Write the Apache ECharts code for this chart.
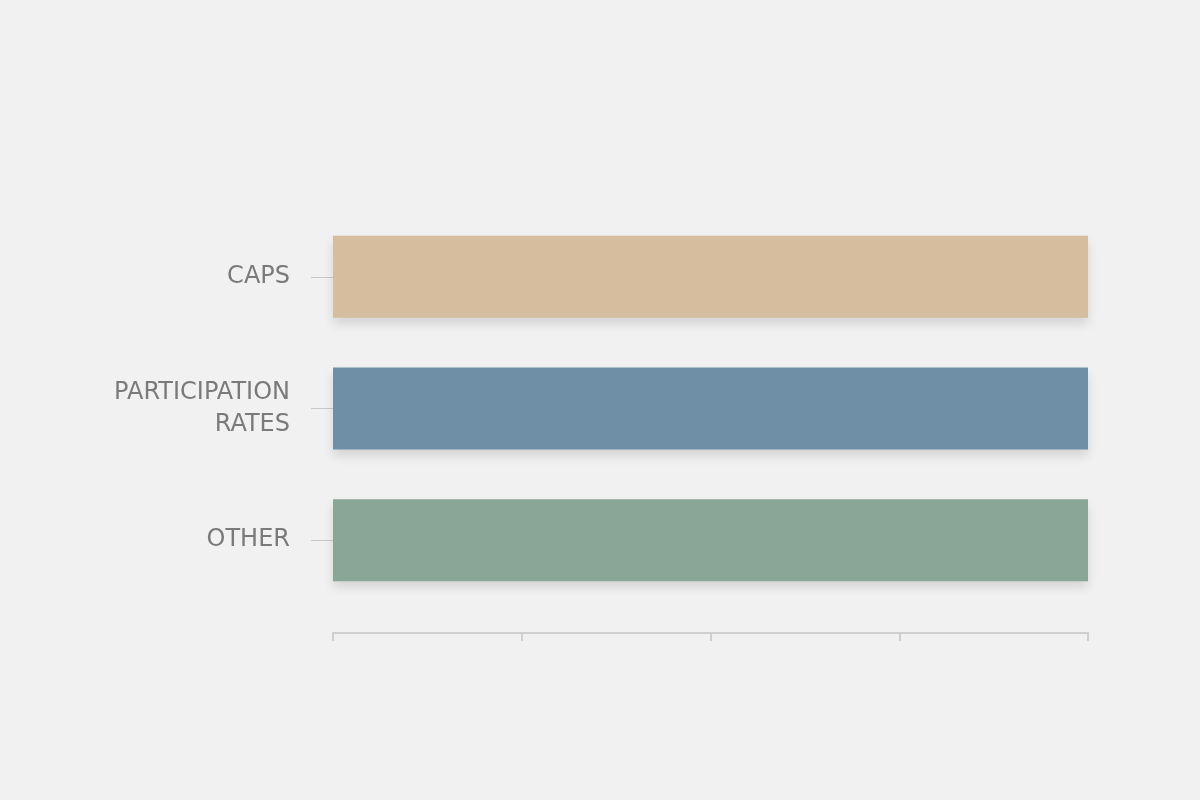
<!DOCTYPE html>
<html>
<head>
<meta charset="utf-8">
<script src="https://cdn.jsdelivr.net/npm/echarts@6/dist/echarts.min.js"></script>
<style>html,body{margin:0;background:#f1f1f1}#c{width:1200px;height:800px}</style>
</head>
<body>
<div id="c"></div>
<script>
const categories = ['CAPS', 'PARTICIPATION\nRATES', 'OTHER'];
const values = [100, 100, 100];
const colors = ['#d6bd9d', '#6f8fa6', '#88a796'];

const chart = echarts.init(document.getElementById('c'));
chart.setOption({
    backgroundColor: '#f1f1f1',
    grid: {left: 333, right: 112, top: 211, bottom: 194},
    xAxis: {
        type: 'value', min: 0, max: 100, interval: 25, offset: 27,
        axisLine: {show: true, lineStyle: {color: '#cfcfcf', width: 2}},
        axisTick: {show: true, length: 8, lineStyle: {color: '#cfcfcf', width: 2}},
        axisLabel: {show: false},
        splitLine: {show: false}
    },
    yAxis: {
        type: 'category', inverse: true, data: categories,
        axisLine: {show: false},
        axisTick: {show: true, alignWithLabel: true, length: 22, lineStyle: {color: '#c8c8c8'}},
        axisLabel: {color: '#7a7a7a', fontSize: 24, fontFamily: 'DejaVu Sans', margin: 43, lineHeight: 32, align: 'right'}
    },
    series: [{
        type: 'bar', barWidth: 82,
        data: values.map((v, i) => ({value: v, itemStyle: {color: colors[i]}})),
        itemStyle: {shadowColor: 'rgba(0,0,0,0.12)', shadowBlur: 10, shadowOffsetY: 6}
    }]
});
</script>
</body>
</html>
